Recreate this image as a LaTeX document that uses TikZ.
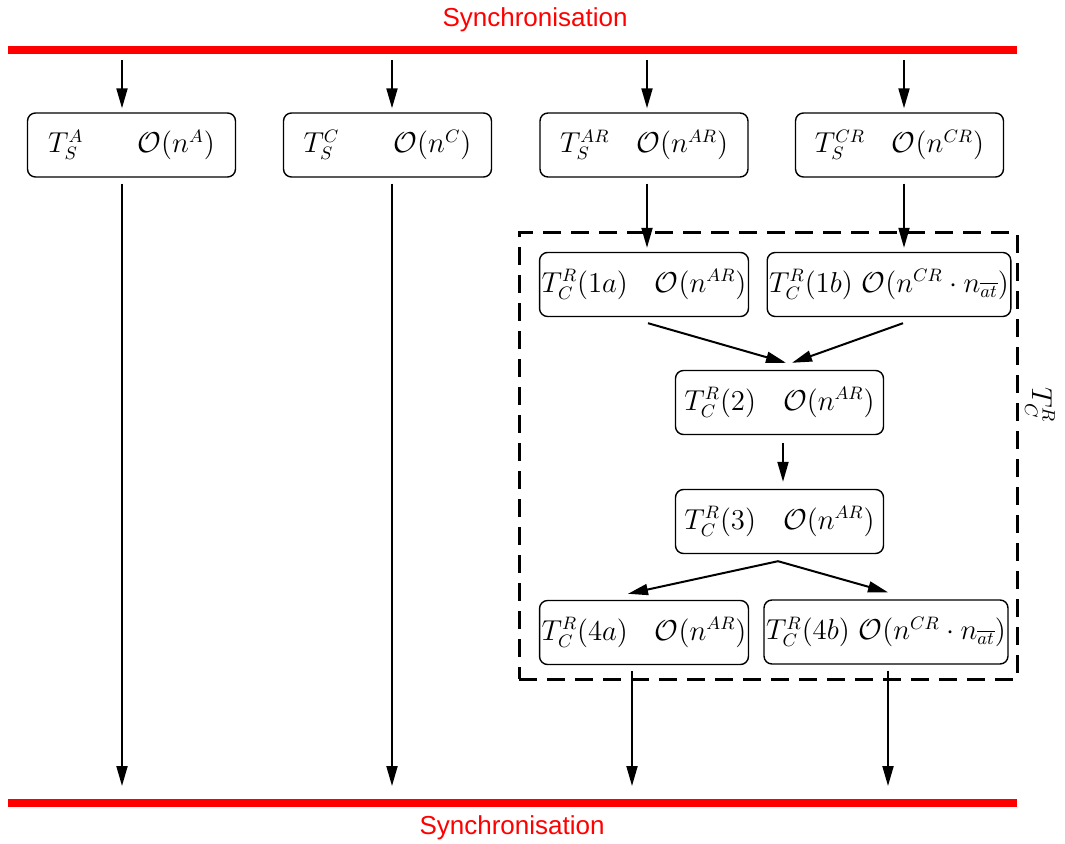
\documentclass[tikz,border=0pt]{standalone}
\usepackage{amsmath,amssymb}
\usepackage{fontspec}
\newfontfamily\syncfont{Liberation Sans}
\usepackage{tikz}
\usetikzlibrary{arrows.meta,positioning}
\definecolor{syncred}{RGB}{255,0,0}

\begin{document}
\begin{tikzpicture}[x=0.5pt, y=-0.5pt,
task/.style={draw, rounded corners=4pt, line width=0.7pt, minimum width=104pt, minimum height=32pt, inner sep=1pt, font=\fontsize{13.5}{16}\selectfont},
flow/.style={line width=1pt, -{Triangle[length=10pt,width=5.5pt]}},
gap/.style={shorten >=2pt, shorten <=3pt},
syncbar/.style={draw=syncred, line width=4pt},
synctext/.style={text=syncred, font=\syncfont\fontsize{13}{15}\selectfont},
]
\useasboundingbox (0,0) rectangle (1065,844);

\node[synctext] (topsync) at (535,20) {Synchronisation};
\draw[syncbar] (8,50) -- (1017,50);
\draw[syncbar] (8,803) -- (1017,803);
\node[synctext] (botsync) at (512,828) {Synchronisation};

\coordinate (in1) at (122,54);
\coordinate (in2) at (392,54);
\coordinate (in3) at (647,54);
\coordinate (in4) at (904,54);
\coordinate (out1) at (122,790);
\coordinate (out2) at (392,790);
\coordinate (out3) at (632,790);
\coordinate (out4) at (888,790);

\node[task] (sa) at (131.5,145) {$T_S^A\qquad\mathcal{O}(n^A)$};
\node[task] (sc) at (387.5,145) {$T_S^C\qquad\mathcal{O}(n^C)$};
\node[task] (sar) at (644,145) {$T_S^{AR}\quad\mathcal{O}(n^{AR})$};
\node[task] (scr) at (899.5,145) {$T_S^{CR}\quad\mathcal{O}(n^{CR})$};

\node[draw, dashed, line width=1.5pt, dash pattern=on 9pt off 5pt, minimum width=249pt, minimum height=223pt, inner sep=0pt] (frame) at (768,456) {};
\node[rotate=-90, font=\fontsize{13.5}{16}\selectfont] (tcr) at (1040,405) {$T_C^R$};

\node[task] (r1a) at (644,284.5) {$T_C^R(1a)\quad\mathcal{O}(n^{AR})$};
\node[task, minimum width=119pt] (r1b) at (889,284.5) {$T_C^R(1b)\ \mathcal{O}(n^{CR}\cdot n_{\overline{at}})$};
\node[task] (r2) at (779.5,402.5) {$T_C^R(2)\quad\mathcal{O}(n^{AR})$};
\node[task] (r3) at (779.5,521.5) {$T_C^R(3)\quad\mathcal{O}(n^{AR})$};
\node[task] (r4a) at (644,632.5) {$T_C^R(4a)\quad\mathcal{O}(n^{AR})$};
\node[task, minimum width=122pt] (r4b) at (886,632) {$T_C^R(4b)\ \mathcal{O}(n^{CR}\cdot n_{\overline{at}})$};

\draw[flow,gap] (in1) -- (in1 |- sa.north);
\draw[flow,gap] (in2) -- (in2 |- sc.north);
\draw[flow,gap] (in3) -- (in3 |- sar.north);
\draw[flow,gap] (in4) -- (in4 |- scr.north);
\draw[flow,gap] (sa.south -| out1) -- (out1);
\draw[flow,gap] (sc.south -| out2) -- (out2);
\draw[flow,gap] (in3 |- sar.south) -- (in3 |- r1a.north);
\draw[flow,gap] (in4 |- scr.south) -- (in4 |- r1b.north);

\draw[flow] ([xshift=2pt,yshift=-3pt]r1a.south) -- ([xshift=3.25pt,yshift=3.5pt]r2.north);
\draw[flow] ([xshift=7pt,yshift=-3pt]r1b.south) -- ([xshift=6.25pt,yshift=3.5pt]r2.north);
\draw[flow] ([xshift=1.75pt,yshift=-4pt]r2.south) -- ([xshift=1.75pt,yshift=3.5pt]r3.north);
\draw[flow] ([xshift=-0.75pt,yshift=-3.5pt]r3.south) -- ([xshift=-8pt,yshift=3pt]r4a.north);
\draw[flow] ([xshift=-0.75pt,yshift=-3.5pt]r3.south) -- ([xshift=1pt,yshift=3.5pt]r4b.north);

\draw[flow,gap] (r4a.south -| out3) -- (out3);
\draw[flow,gap] (r4b.south -| out4) -- (out4);
\end{tikzpicture}
\end{document}
